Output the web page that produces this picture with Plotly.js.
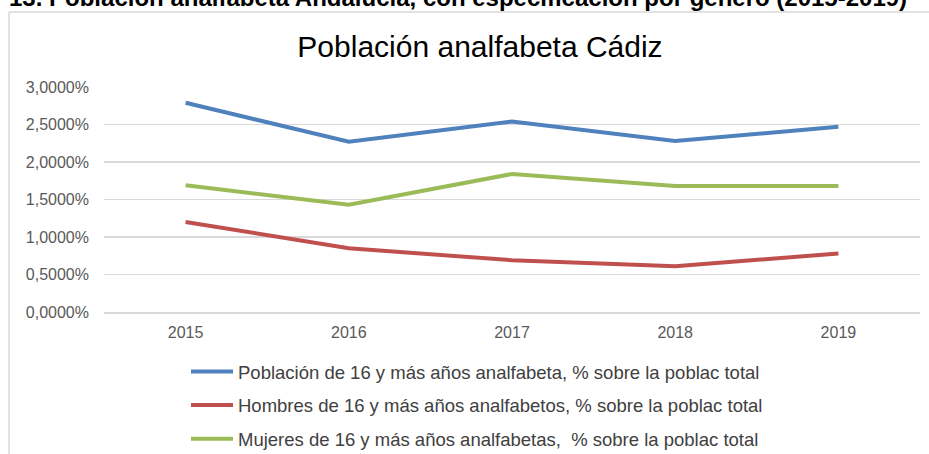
<!DOCTYPE html>
<html>
<head>
<meta charset="utf-8">
<script src="https://cdn.plot.ly/plotly-3.0.1.min.js"></script>
<style>html,body{margin:0;padding:0;background:#fff;}#chart{width:929px;height:454px;}</style>
</head>
<body>
<div id="chart"></div>
<script>
const years = ['2015', '2016', '2017', '2018', '2019'];
const totalPct = [2.79, 2.27, 2.54, 2.28, 2.47];
const hombresPct = [1.20, 0.85, 0.69, 0.61, 0.78];
const mujeresPct = [1.69, 1.43, 1.84, 1.68, 1.68];
const seriesNames = [
  'Población de 16 y más años analfabeta, % sobre la poblac total',
  'Hombres de 16 y más años analfabetos, % sobre la poblac total',
  'Mujeres de 16 y más años analfabetas,  % sobre la poblac total'
];
const seriesColors = ['#4f81bd', '#c0504d', '#9bbb59'];
const yTicks = [0, 0.5, 1, 1.5, 2, 2.5, 3];
const yTickText = ['0,0000%', '0,5000%', '1,0000%', '1,5000%', '2,0000%', '2,5000%', '3,0000%'];

const W = 929, H = 454, L = 104, R = 9, T = 87, B = 142;
const pw = W - L - R, ph = H - T - B;
const px = x => (x - L) / pw;
const py = y => (H - B - y) / ph;

const FONT = 'Liberation Sans, Arial, sans-serif';
const seriesData = [totalPct, hombresPct, mujeresPct];
const traces = seriesData.map((vals, i) => ({
  x: years, y: vals, type: 'scatter', mode: 'lines',
  name: seriesNames[i], legendgroup: 'g' + i,
  line: {color: seriesColors[i], width: 4},
  hoverinfo: 'skip'
}));

const layout = {
  width: W, height: H,
  margin: {l: L, r: R, t: T, b: B, pad: 0, autoexpand: false},
  paper_bgcolor: '#ffffff', plot_bgcolor: '#ffffff',
  font: {family: FONT, color: '#595959'},
  title: {
    text: 'Población analfabeta Cádiz',
    font: {family: FONT, size: 30, color: '#000000'},
    xref: 'container', yref: 'container',
    x: 480 / W, xanchor: 'center', y: 1 - 46 / H, yanchor: 'middle'
  },
  xaxis: {
    type: 'category', range: [-0.5, 4.5],
    showgrid: false, zeroline: false,
    showline: true, linecolor: '#d9d9d9', linewidth: 1.5,
    ticks: '', tickfont: {size: 16, color: '#595959', family: FONT},
    ticklabelstandoff: 5, fixedrange: true
  },
  yaxis: {
    range: [0, 3], tickvals: yTicks, ticktext: yTickText,
    showgrid: true, gridcolor: '#d9d9d9', gridwidth: 1.5,
    zeroline: false, showline: false, ticks: '',
    tickfont: {size: 16, color: '#595959', family: FONT},
    ticklabelstandoff: 14, fixedrange: true
  },
  showlegend: true,
  legend: {
    x: px(186), xanchor: 'left', y: py(353), yanchor: 'top',
    orientation: 'v', traceorder: 'grouped', tracegroupgap: 6.5,
    itemwidth: 42,
    font: {size: 18.5, color: '#404040', family: FONT},
    bgcolor: 'rgba(0,0,0,0)', borderwidth: 0
  },
  shapes: [
    {type: 'line', xref: 'paper', yref: 'paper', x0: px(9), x1: px(9), y0: py(456), y1: py(12), line: {color: '#d9d9d9', width: 1.5}},
    {type: 'line', xref: 'paper', yref: 'paper', x0: px(9), x1: px(931), y0: py(12), y1: py(12), line: {color: '#d9d9d9', width: 1.5}}
  ],
  annotations: [{
    text: '<b>13. Población analfabeta Andalucía, con especificación por género (2015-2019)</b>',
    xref: 'paper', yref: 'paper', x: px(7), xanchor: 'left', y: py(-2.5), yanchor: 'middle',
    showarrow: false, font: {family: FONT, size: 24, color: '#000000'}
  }]
};

Plotly.newPlot('chart', traces, layout, {displayModeBar: false, staticPlot: true});
</script>
</body>
</html>
